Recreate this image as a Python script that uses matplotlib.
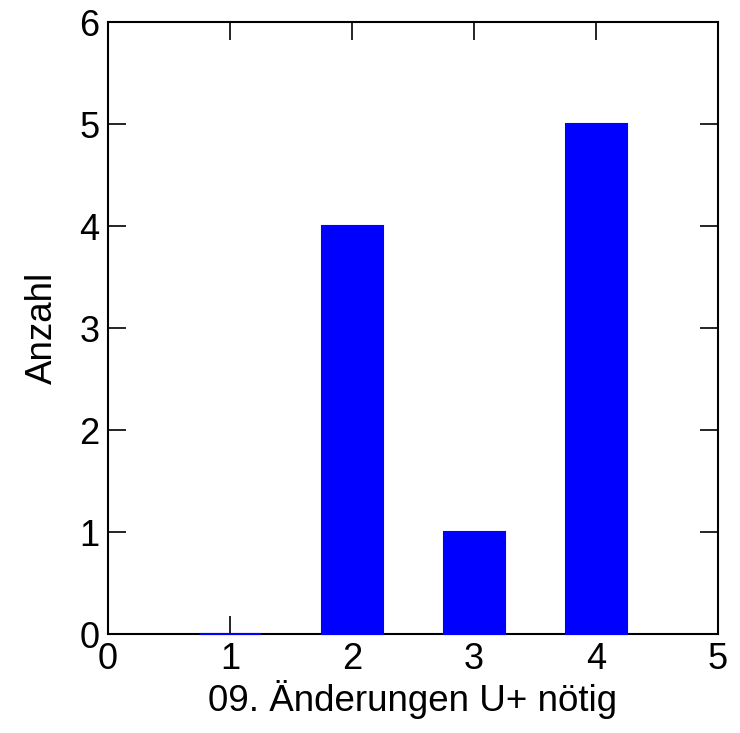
import matplotlib
matplotlib.use("Agg")
import matplotlib.pyplot as plt

categories = [1, 2, 3, 4]
counts = [0, 4, 1, 5]
xticks = [0, 1, 2, 3, 4, 5]
yticks = [0, 1, 2, 3, 4, 5, 6]

plt.rcParams['font.family'] = ['Liberation Sans', 'DejaVu Sans']

fig = plt.figure(figsize=(7.4, 7.33), dpi=100)
ax = fig.add_axes([108/740, 1-634/733, 610/740, 612/733])
ax.bar(categories, counts, width=0.5, color='#0000ff', edgecolor='#0000ff',
       linewidth=1.5, zorder=3, clip_on=False)
ax.set_xlim(0, 5)
ax.set_ylim(0, 6)
ax.set_xticks(xticks)
ax.set_yticks(yticks)
ax.tick_params(direction='in', length=13, width=1.2, top=True, right=True, labelsize=26, pad=6)
for s in ax.spines.values():
    s.set_linewidth(1.5)
ax.set_xlabel('09. Änderungen U+ nötig', fontsize=26.5, labelpad=2)
ax.set_ylabel('Anzahl', fontsize=26.5, labelpad=14)
fig.savefig('out.png', dpi=100)
